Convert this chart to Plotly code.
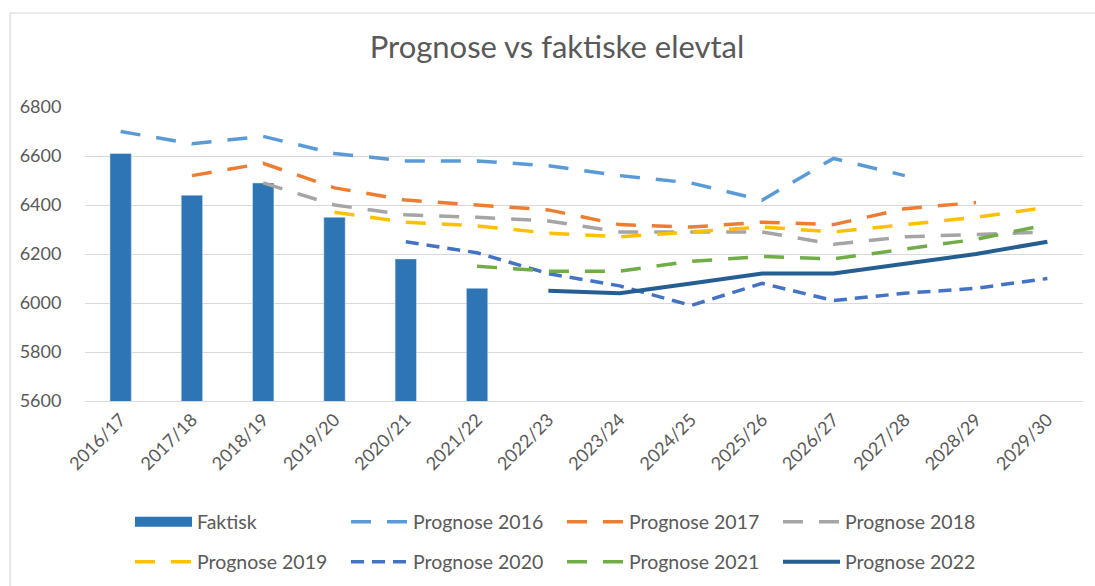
import plotly.graph_objects as go

categories = ["2016/17", "2017/18", "2018/19", "2019/20", "2020/21", "2021/22", "2022/23",
              "2023/24", "2024/25", "2025/26", "2026/27", "2027/28", "2028/29", "2029/30"]

faktisk = [6610, 6440, 6490, 6350, 6180, 6060, None, None, None, None, None, None, None, None]
prognose_2016 = [6700, 6650, 6680, 6610, 6580, 6580, 6560, 6520, 6490, 6420, 6590, 6520, None, None]
prognose_2017 = [None, 6520, 6570, 6470, 6420, 6400, 6380, 6320, 6310, 6330, 6320, 6385, 6410, None]
prognose_2018 = [None, None, 6490, 6400, 6360, 6350, 6335, 6290, 6290, 6290, 6240, 6270, 6280, 6290]
prognose_2019 = [None, None, None, 6370, 6330, 6315, 6285, 6270, 6290, 6310, 6290, 6320, 6350, 6390]
prognose_2020 = [None, None, None, None, 6250, 6205, 6120, 6070, 5990, 6080, 6010, 6040, 6060, 6100]
prognose_2021 = [None, None, None, None, None, 6150, 6130, 6130, 6170, 6190, 6180, 6220, 6260, 6320]
prognose_2022 = [None, None, None, None, None, None, 6050, 6040, 6080, 6120, 6120, 6160, 6200, 6250]

FONT = "Lato"
GREY = "#595959"
W, H = 1095, 586
ML, MR, MT, MB = 85, 12, 107, 185
PW, PH = W - ML - MR, H - MT - MB

fig = go.Figure()
fig.add_trace(go.Bar(x=categories, y=faktisk, name="Faktisk", marker_color="#2E75B6",
                     showlegend=False))
# legend stand-in for the bar (wide rectangle symbol like Excel)
fig.add_trace(go.Scatter(x=[None], y=[None], mode="lines", name="Faktisk",
                         line=dict(color="#2E75B6", width=16), legend="legend"))

series = [
    ("Prognose 2016", prognose_2016, "#5B9BD5", "20px,16px", 3.5, "legend"),
    ("Prognose 2017", prognose_2017, "#ED7D31", "20px,16px", 3.5, "legend"),
    ("Prognose 2018", prognose_2018, "#A5A5A5", "20px,16px", 3.5, "legend"),
    ("Prognose 2019", prognose_2019, "#FFC000", "20px,16px", 3.5, "legend2"),
    ("Prognose 2020", prognose_2020, "#4472C4", "13px,8px", 3.5, "legend2"),
    ("Prognose 2021", prognose_2021, "#70AD47", "20px,16px", 3.5, "legend2"),
    ("Prognose 2022", prognose_2022, "#255E91", "solid", 4, "legend2"),
]
for name, vals, color, dash, width, leg in series:
    fig.add_trace(go.Scatter(x=categories, y=vals, name=name, mode="lines",
                             line=dict(color=color, dash=dash, width=width),
                             connectgaps=False, legend=leg))

legend_common = dict(orientation="h", xanchor="left", yanchor="middle",
                     xref="container", yref="container",
                     font=dict(family=FONT, size=19.5, color=GREY),
                     entrywidth=144, entrywidthmode="pixels", bgcolor="rgba(0,0,0,0)",
                     traceorder="normal", itemwidth=57)

border = dict(color="#D9D9D9", width=1.2)
fig.update_layout(
    width=W, height=H,
    margin=dict(l=ML, r=MR, t=MT, b=MB, autoexpand=False),
    paper_bgcolor="white", plot_bgcolor="white",
    title=dict(text="Prognose vs faktiske elevtal", x=557 / W, xanchor="center",
               xref="container", yref="container",
               y=1 - 47 / H, yanchor="middle", automargin=False,
               font=dict(family=FONT, size=31, color=GREY)),
    bargap=0.7,
    xaxis=dict(type="category", tickangle=-45, showgrid=False, showline=True,
               linecolor="#D9D9D9", linewidth=1.3, ticks="", automargin=False,
               tickfont=dict(family=FONT, size=18, color=GREY)),
    yaxis=dict(range=[5600, 6800], dtick=200, showgrid=True, gridcolor="#D9D9D9",
               gridwidth=1.3, zeroline=False, showline=False, automargin=False,
               ticks="outside", ticklen=19, tickcolor="rgba(0,0,0,0)",
               tickfont=dict(family=FONT, size=18, color=GREY)),
    legend=dict(x=130 / W, y=1 - 522 / H, **legend_common),
    legend2=dict(x=130 / W, y=1 - 562 / H, **legend_common),
    shapes=[
        dict(type="line", xref="paper", yref="paper",
             x0=(10 - ML) / PW, x1=(W - ML) / PW,
             y0=(MT + PH - 13) / PH, y1=(MT + PH - 13) / PH, line=border, layer="below"),
        dict(type="line", xref="paper", yref="paper",
             x0=(10 - ML) / PW, x1=(10 - ML) / PW,
             y0=(MT + PH - H) / PH, y1=(MT + PH - 13) / PH, line=border, layer="below"),
    ],
)

fig.write_html(
    "out.html", config={"displayModeBar": False},
    post_script=("document.documentElement.style.margin='0';"
                 "document.documentElement.style.overflow='hidden';"
                 "document.body.style.margin='0';document.body.style.overflow='hidden';"))
